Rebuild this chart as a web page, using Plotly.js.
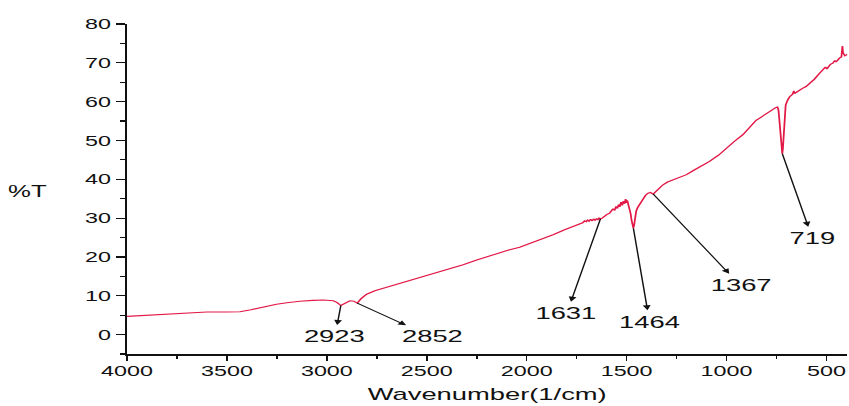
<!DOCTYPE html>
<html>
<head>
<meta charset="utf-8">
<script src="https://cdn.plot.ly/plotly-3.0.1.min.js"></script>
<style>
html, body { margin: 0; padding: 0; background: #fff; overflow: hidden; }
#chart { width: 528px; height: 406px; transform: scaleX(1.608); transform-origin: 0 0; }
</style>
</head>
<body>
<div id="chart"></div>
<script>
// Wavenumber (1/cm) and transmittance (%T)
const wavenumber = [
  4000, 3900, 3800, 3700, 3650, 3600, 3500, 3435, 3380, 3320, 3252, 3200, 3135, 3070, 3018,
  2968, 2950, 2930, 2910, 2885, 2865, 2848, 2830, 2801, 2760, 2700, 2651, 2600, 2550, 2485,
  2400, 2318, 2250, 2151, 2090, 2035, 1985, 1930, 1868, 1810, 1780, 1752, 1735, 1720, 1710,
  1702, 1695, 1688, 1680, 1672, 1665, 1658, 1650, 1643, 1637, 1631, 1622, 1610, 1600, 1585,
  1575, 1568, 1560, 1553, 1546, 1540, 1534, 1528, 1522, 1516, 1510, 1505, 1501, 1497, 1492,
  1486, 1480, 1475, 1470, 1466, 1462, 1458, 1452, 1444, 1435, 1427, 1418, 1405, 1393, 1380,
  1367, 1350, 1330, 1318, 1295, 1268, 1241, 1200, 1168, 1130, 1085, 1040, 1002, 960, 918,
  880, 852, 830, 815, 802, 790, 768, 752, 745, 740, 736, 732, 728, 724, 721,
  718, 715, 712, 708, 704, 695, 685, 670, 663, 660, 655, 640, 620, 602, 580,
  560, 540, 518, 505, 498, 490, 480, 468, 458, 452, 445, 435, 425, 420, 417,
  413, 408, 402, 395
];
const transmittance = [
  4.7, 5.0, 5.3, 5.6, 5.8, 5.8, 5.8, 5.9, 6.4, 7.1, 7.8, 8.2, 8.6, 8.8, 8.9,
  8.7, 8.3, 7.5, 8.0, 8.7, 8.6, 8.1, 9.2, 10.4, 11.3, 12.2, 13.0, 13.9, 14.6, 15.5,
  16.7, 18.0, 19.2, 20.9, 21.8, 22.5, 23.4, 24.5, 25.7, 27.0, 27.6, 28.3, 28.5, 28.8, 29.3,
  29.1, 29.5, 29.2, 29.7, 29.3, 29.8, 29.4, 29.9, 29.5, 30.1, 29.8, 30.0, 30.6, 30.9, 31.3,
  31.8, 32.4, 32.0, 33.0, 32.5, 33.5, 32.9, 34.1, 33.3, 34.4, 33.7, 34.9, 33.9, 34.6, 33.6,
  32.8, 31.2, 29.4, 28.0, 27.4, 28.3, 30.4, 31.8, 32.8, 33.6, 34.3, 35.1, 35.9, 36.4, 36.6,
  36.2, 37.1, 38.1, 38.6, 39.3, 39.9, 40.3, 41.2, 42.2, 43.2, 44.6, 46.2, 48.0, 49.8, 51.5,
  53.5, 55.2, 55.9, 56.4, 56.9, 57.4, 58.1, 58.5, 58.6, 57.8, 55.6, 52.4, 49.8, 47.6, 46.6,
  47.8, 51.6, 55.2, 57.9, 59.1, 60.3, 61.2, 61.9, 62.8, 62.1, 62.3, 62.9, 63.4, 63.9, 64.8,
  65.8, 67.0, 68.2, 68.9, 68.4, 69.1, 69.6, 69.9, 70.6, 70.2, 70.8, 71.2, 71.5, 74.3, 72.6,
  72.0, 71.8, 72.0, 72.2
];

// Band assignments: curve point and label position
const bandLabels = ["2923", "2852", "1631", "1464", "1367", "719"];
const bandWn = [2930, 2848, 1631, 1466, 1367, 721];
const bandT = [7.5, 8.1, 29.8, 27.4, 36.2, 46.6];
const labelWn = [2960, 2475, 1800, 1385, 930, 570];
const labelT = [-0.6, -0.6, 5.4, 3.2, 12.6, 24.7];

const font = "Liberation Sans, Arial, sans-serif";

const annotations = bandLabels.map((t, i) => ({
  x: bandWn[i], y: bandT[i], xref: "x", yref: "y",
  ax: labelWn[i], ay: labelT[i], axref: "x", ayref: "y",
  text: t, showarrow: true, arrowside: "start",
  startarrowhead: 2, startarrowsize: 1.1, arrowwidth: 0.9, arrowcolor: "#111",
  startstandoff: 1,
  font: { family: font, size: 17, color: "#111" }
}));

annotations.push({
  text: "%T", xref: "paper", yref: "paper", x: -0.1375, y: 0.491,
  xanchor: "center", yanchor: "middle", showarrow: false,
  font: { family: font, size: 16, color: "#111" }
});

const trace = {
  x: wavenumber, y: transmittance, type: "scatter", mode: "lines",
  line: { color: "rgb(226,24,70)", width: 1.1 },
  hoverinfo: "skip"
};

const layout = {
  width: 528, height: 406,
  margin: { l: 79, r: 1, t: 24, b: 52, pad: 0 },
  paper_bgcolor: "#fff", plot_bgcolor: "#fff",
  showlegend: false,
  font: { family: font, color: "#111" },
  xaxis: {
    range: [4000, 395], tick0: 0, dtick: 500,
    showgrid: false, zeroline: false,
    showline: true, linecolor: "#111", linewidth: 1.7,
    ticks: "outside", ticklen: 5, tickwidth: 1, tickcolor: "#111",
    ticklabelstandoff: -2,
    minor: { dtick: 250, ticks: "outside", ticklen: 3, tickwidth: 1, tickcolor: "#111" },
    tickfont: { family: font, size: 14.5, color: "#111" },
    title: { text: "Wavenumber(1/cm)", standoff: 10, font: { family: font, size: 17, color: "#111" } },
    automargin: false
  },
  yaxis: {
    range: [-5, 80], tick0: 0, dtick: 10,
    showgrid: false, zeroline: false,
    showline: true, linecolor: "#111", linewidth: 1.1,
    ticks: "outside", ticklen: 6, tickwidth: 1.2, tickcolor: "#111",
    minor: { dtick: 5, ticks: "outside", ticklen: 3, tickwidth: 1.2, tickcolor: "#111" },
    tickfont: { family: font, size: 14.5, color: "#111" },
    automargin: false
  },
  annotations: annotations
};

Plotly.newPlot("chart", [trace], layout, { displayModeBar: false, staticPlot: true });
</script>
</body>
</html>
